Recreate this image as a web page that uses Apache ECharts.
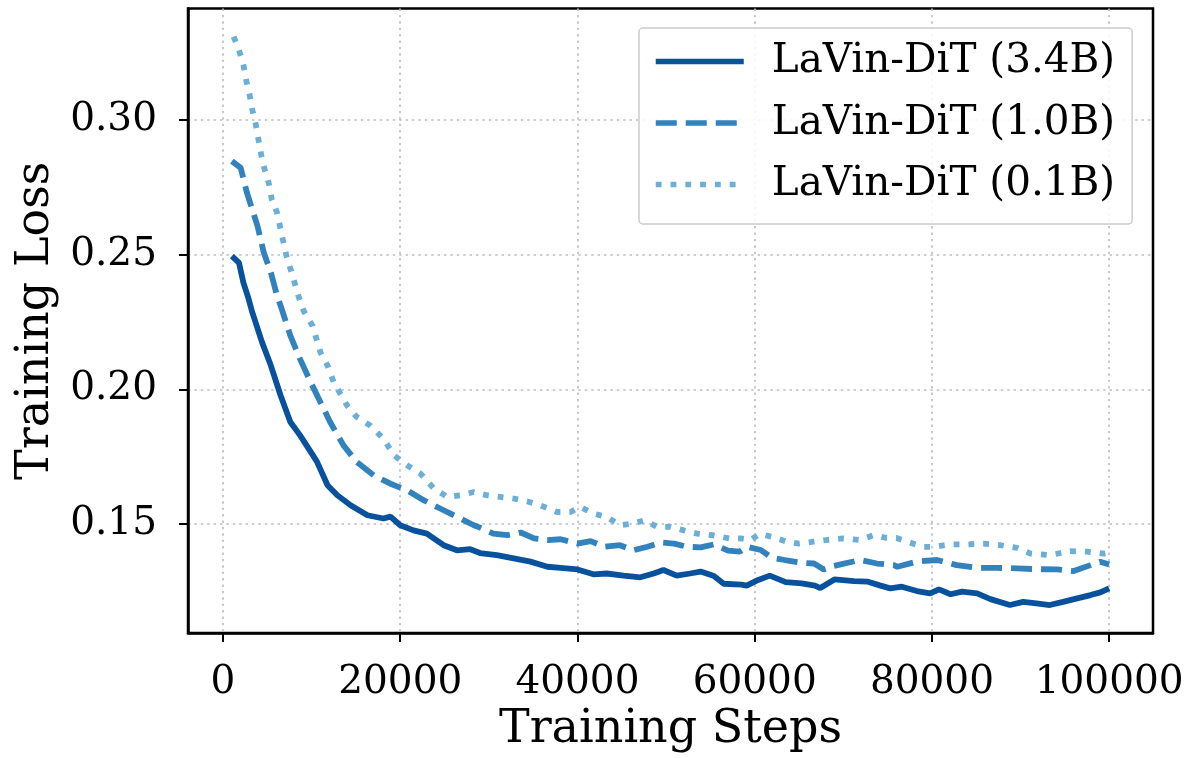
<!DOCTYPE html>
<html>
<head>
<meta charset="utf-8">
<script src="https://cdn.jsdelivr.net/npm/echarts@6/dist/echarts.min.js"></script>
<style>
html,body{margin:0;padding:0;background:#fff;}
#chart{width:1195px;height:758px;}
</style>
</head>
<body>
<div id="chart"></div>
<script>
// ---- data ----
const seriesNames = ['LaVin-DiT (3.4B)', 'LaVin-DiT (1.0B)', 'LaVin-DiT (0.1B)'];
const xTicks = [0, 20000, 40000, 60000, 80000, 100000];
const yTicks = [0.15, 0.20, 0.25, 0.30];

const steps34 = [1000,1800,2300,2900,3300,4400,5400,6500,7600,8700,9900,10600,11800,12900,14400,16300,18100,18900,20000,21500,23000,24900,26400,27900,29000,30900,32800,34700,36600,38100,40000,41800,43300,45200,47100,48600,49700,51200,52700,53900,55400,56500,58500,59100,60400,61700,63500,65300,66800,67400,69000,71200,72700,74200,75300,76600,78300,79800,80800,82100,83400,85100,86600,88800,90300,91800,93300,94800,96400,97900,99000,100000];
const loss34 = [0.2494,0.2470,0.2396,0.2334,0.2286,0.2175,0.2088,0.1977,0.1879,0.1829,0.1768,0.1732,0.1644,0.1607,0.1570,0.1533,0.1521,0.1528,0.1496,0.1477,0.1465,0.1422,0.1403,0.1407,0.1393,0.1385,0.1373,0.1361,0.1342,0.1338,0.1332,0.1314,0.1317,0.1309,0.1303,0.1317,0.1330,0.1309,0.1317,0.1324,0.1308,0.1279,0.1276,0.1272,0.1293,0.1309,0.1285,0.1280,0.1272,0.1263,0.1295,0.1289,0.1287,0.1272,0.1262,0.1268,0.1252,0.1243,0.1258,0.1240,0.1250,0.1243,0.1222,0.1200,0.1212,0.1206,0.1200,0.1212,0.1225,0.1237,0.1247,0.1262];

const steps10 = [1000,2000,2700,3900,4600,5400,6100,6500,7600,8700,9900,11000,12100,13600,15100,17000,18900,20800,22700,24500,26400,28300,29000,30500,32100,33600,35100,36600,38100,40000,41500,43000,44800,46300,47900,49400,50900,52400,53900,55400,57000,58300,59100,60700,61900,63400,65500,66700,67800,68900,71900,73800,75700,76100,78300,80600,82800,85100,87300,89600,91800,94100,96000,97900,99000,100000];
const loss10 = [0.2846,0.2821,0.2729,0.2605,0.2507,0.2433,0.2347,0.2310,0.2199,0.2112,0.2026,0.1952,0.1878,0.1792,0.1730,0.1681,0.1650,0.1625,0.1588,0.1558,0.1527,0.1496,0.1487,0.1465,0.1459,0.1469,0.1447,0.1441,0.1444,0.1428,0.1437,0.1416,0.1422,0.1403,0.1416,0.1432,0.1428,0.1416,0.1414,0.1425,0.1402,0.1398,0.1416,0.1404,0.1376,0.1367,0.1356,0.1354,0.1332,0.1345,0.1367,0.1354,0.1348,0.1342,0.1361,0.1367,0.1348,0.1338,0.1338,0.1336,0.1333,0.1332,0.1326,0.1348,0.1361,0.1350];

const steps01 = [1200,1800,2300,2600,3000,3300,3700,4000,4300,4700,5200,5500,6100,6500,7200,7800,8500,9100,10100,11000,11800,12500,14000,15100,16600,18100,19300,20800,22300,23800,25300,26800,28300,29800,31300,32800,34300,35800,37700,39200,40300,41800,43300,44800,46300,47500,49000,50500,52000,53500,55200,57200,58400,59500,60600,62100,63600,65000,66600,68300,70000,71900,73400,74900,76000,77200,79000,80200,82100,83900,85800,87700,89600,91100,93300,95600,97500,99400,100000];
const loss01 = [0.3308,0.3259,0.3203,0.3148,0.3092,0.3037,0.2982,0.2926,0.2871,0.2815,0.2760,0.2704,0.2655,0.2593,0.2489,0.2427,0.2347,0.2291,0.2236,0.2137,0.2088,0.2026,0.1940,0.1897,0.1866,0.1817,0.1755,0.1718,0.1687,0.1632,0.1601,0.1607,0.1619,0.1607,0.1601,0.1595,0.1585,0.1570,0.1545,0.1545,0.1564,0.1539,0.1527,0.1496,0.1502,0.1514,0.1490,0.1490,0.1477,0.1465,0.1459,0.1447,0.1447,0.1441,0.1464,0.1452,0.1435,0.1428,0.1435,0.1442,0.1447,0.1441,0.1459,0.1449,0.1449,0.1435,0.1416,0.1416,0.1425,0.1425,0.1428,0.1422,0.1412,0.1391,0.1385,0.1400,0.1398,0.1391,0.1395];

// ---- styles ----
const colors = ['#08519c', '#3182bd', '#6baed6'];
const dashes = ['solid', [21, 9], [5.8, 9]];
const FONT = 'DejaVu Serif';

function pairs(xs, ys) { return xs.map((x, i) => [x, ys[i]]); }
const dataSets = [pairs(steps34, loss34), pairs(steps10, loss10), pairs(steps01, loss01)];

const gridLine = { show: true, lineStyle: { color: '#bdbdbd', width: 1.6, type: [2.4, 4] } };

const chart = echarts.init(document.getElementById('chart'), null, { renderer: 'canvas' });
chart.setOption({
  animation: false,
  backgroundColor: '#ffffff',
  grid: { left: 188, right: 42, top: 8.5, bottom: 123, show: true, borderColor: '#000', borderWidth: 2.5, backgroundColor: 'transparent', containLabel: false },
  xAxis: {
    type: 'value', min: -3950, max: 104950,
    name: 'Training Steps', nameLocation: 'middle', nameGap: 68,
    nameTextStyle: { fontFamily: FONT, fontSize: 46, color: '#000' },
    axisLine: { show: true, onZero: false, lineStyle: { color: '#000', width: 2.5 } },
    axisTick: { show: true, inside: false, length: 9, lineStyle: { color: '#000', width: 2 }, customValues: xTicks },
    axisLabel: { show: true, margin: 30, fontFamily: FONT, fontSize: 39, color: '#000', customValues: xTicks, formatter: v => String(v) },
    splitLine: gridLine
  },
  yAxis: {
    type: 'value', min: 0.1096, max: 0.3412,
    name: 'Training Loss', nameLocation: 'middle', nameGap: 125,
    nameTextStyle: { fontFamily: FONT, fontSize: 46, color: '#000' },
    axisLine: { show: true, onZero: false, lineStyle: { color: '#000', width: 2.5 } },
    axisTick: { show: true, inside: false, length: 9, lineStyle: { color: '#000', width: 2 }, customValues: yTicks },
    axisLabel: { show: true, margin: 31, fontFamily: FONT, fontSize: 39, color: '#000', customValues: yTicks, formatter: v => v.toFixed(2) },
    splitLine: gridLine
  },
  legend: {
    orient: 'vertical', left: 639, top: 28,
    padding: [13, 17, 19, 14],
    itemWidth: 88, itemHeight: 20, itemGap: 20.5,
    backgroundColor: 'rgba(255,255,255,0.85)', borderColor: '#cccccc', borderWidth: 1.5, borderRadius: 4,
    itemStyle: { opacity: 0, borderWidth: 0 },
    lineStyle: { width: 5.5 },
    textStyle: { fontFamily: FONT, fontSize: 40.5, color: '#000', lineHeight: 40, padding: [0, 0, 0, 23] },
    data: seriesNames
  },
  series: seriesNames.map((name, i) => ({
    name: name, type: 'line', data: dataSets[i], symbol: 'none', showSymbol: false,
    smooth: false, z: 3 + i,
    lineStyle: { color: colors[i], width: 5.8, type: dashes[i], cap: 'butt' },
    itemStyle: { color: colors[i] }
  }))
});
</script>
</body>
</html>
